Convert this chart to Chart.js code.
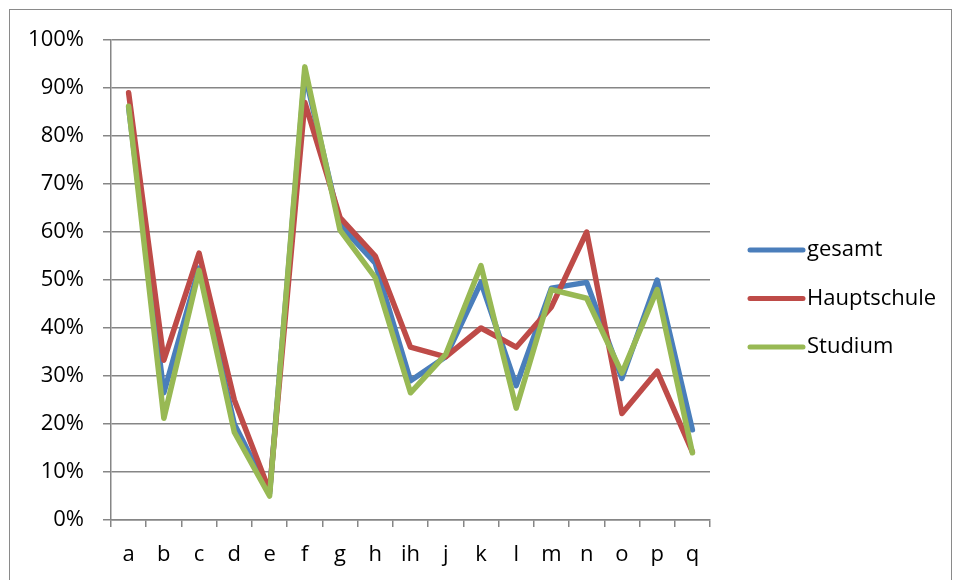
<!DOCTYPE html>
<html>
<head>
<meta charset="utf-8">
<script src="https://cdn.jsdelivr.net/npm/chart.js@4/dist/chart.umd.min.js"></script>
<style>
  body { margin: 0; background: #fff; }
  #wrap { position: relative; width: 955px; height: 580px; overflow: hidden; }
  #frame { position: absolute; left: 9px; top: 9px; width: 943px; height: 600px; border: 1.5px solid #8a8a8a; box-sizing: border-box; }
  canvas { position: absolute; left: 0; top: 0; }
</style>
</head>
<body>
<div id="wrap">
  <div id="frame"></div>
  <canvas id="chart" width="955" height="580"></canvas>
</div>
<script>
var categories = ['a', 'b', 'c', 'd', 'e', 'f', 'g', 'h', 'ih', 'j', 'k', 'l', 'm', 'n', 'o', 'p', 'q'];
var gesamt      = [0.86, 0.265, 0.525, 0.20, 0.055, 0.93, 0.615, 0.535, 0.29, 0.34, 0.495, 0.28, 0.483, 0.495, 0.295, 0.50, 0.188];
var hauptschule = [0.89, 0.333, 0.556, 0.25, 0.06, 0.87, 0.63, 0.55, 0.36, 0.34, 0.40, 0.36, 0.444, 0.60, 0.222, 0.31, 0.142];
var studium     = [0.862, 0.212, 0.52, 0.183, 0.05, 0.944, 0.604, 0.505, 0.265, 0.345, 0.53, 0.233, 0.48, 0.462, 0.306, 0.48, 0.14];
var yTicks = [0, 0.1, 0.2, 0.3, 0.4, 0.5, 0.6, 0.7, 0.8, 0.9, 1];

var fontFamily = '"Open Sans", Lato, sans-serif';
var gridColor = '#868686';

// legend on the right, drawn by hand so it sits where the original one does
var sideLegend = {
  id: 'sideLegend',
  afterDraw: function(chart) {
    var ctx = chart.ctx;
    ctx.save();
    chart.data.datasets.forEach(function(ds, n) {
      var y = 250 + n * 48.5;
      ctx.strokeStyle = ds.borderColor;
      ctx.lineWidth = 5;
      ctx.lineCap = 'round';
      ctx.beginPath();
      ctx.moveTo(750, y);
      ctx.lineTo(803, y);
      ctx.stroke();
      ctx.fillStyle = '#000';
      ctx.font = '22px ' + fontFamily;
      ctx.textBaseline = 'middle';
      ctx.textAlign = 'left';
      ctx.fillText(ds.label, 807, y);
    });
    ctx.restore();
  }
};

new Chart(document.getElementById('chart').getContext('2d'), {
  type: 'line',
  data: {
    labels: categories,
    datasets: [
      { label: 'gesamt', data: gesamt, borderColor: '#4a7ebb', order: 2 },
      { label: 'Hauptschule', data: hauptschule, borderColor: '#be4b48', order: 1 },
      { label: 'Studium', data: studium, borderColor: '#98b954', order: 0 }
    ]
  },
  options: {
    responsive: false,
    animation: false,
    layout: { padding: { left: 0, right: 245, top: 40, bottom: 0 } },
    elements: {
      line: { tension: 0, borderWidth: 5.5, borderCapStyle: 'round', borderJoinStyle: 'round', fill: false },
      point: { radius: 0, hoverRadius: 0 }
    },
    plugins: {
      legend: { display: false },
      tooltip: { enabled: false }
    },
    scales: {
      x: {
        offset: true,
        grid: { offset: true, drawOnChartArea: false, drawTicks: true, tickLength: 7, color: gridColor, lineWidth: 1.5 },
        border: { color: gridColor, width: 1.5 },
        ticks: { color: '#000', font: { family: fontFamily, size: 22 }, padding: 15, maxRotation: 0, autoSkip: false },
        afterFit: function(scale) { scale.height = 60; }
      },
      y: {
        min: 0,
        max: 1,
        afterBuildTicks: function(scale) { scale.ticks = yTicks.map(function(v) { return { value: v }; }); },
        grid: { color: gridColor, lineWidth: 1.5, tickLength: 8 },
        border: { color: gridColor, width: 1.5 },
        ticks: {
          color: '#000',
          font: { family: fontFamily, size: 22 },
          padding: 19,
          callback: function(v) { return Math.round(v * 100) + '%'; }
        },
        afterFit: function(scale) { scale.width = 111; }
      }
    }
  },
  plugins: [sideLegend]
});
</script>
</body>
</html>
